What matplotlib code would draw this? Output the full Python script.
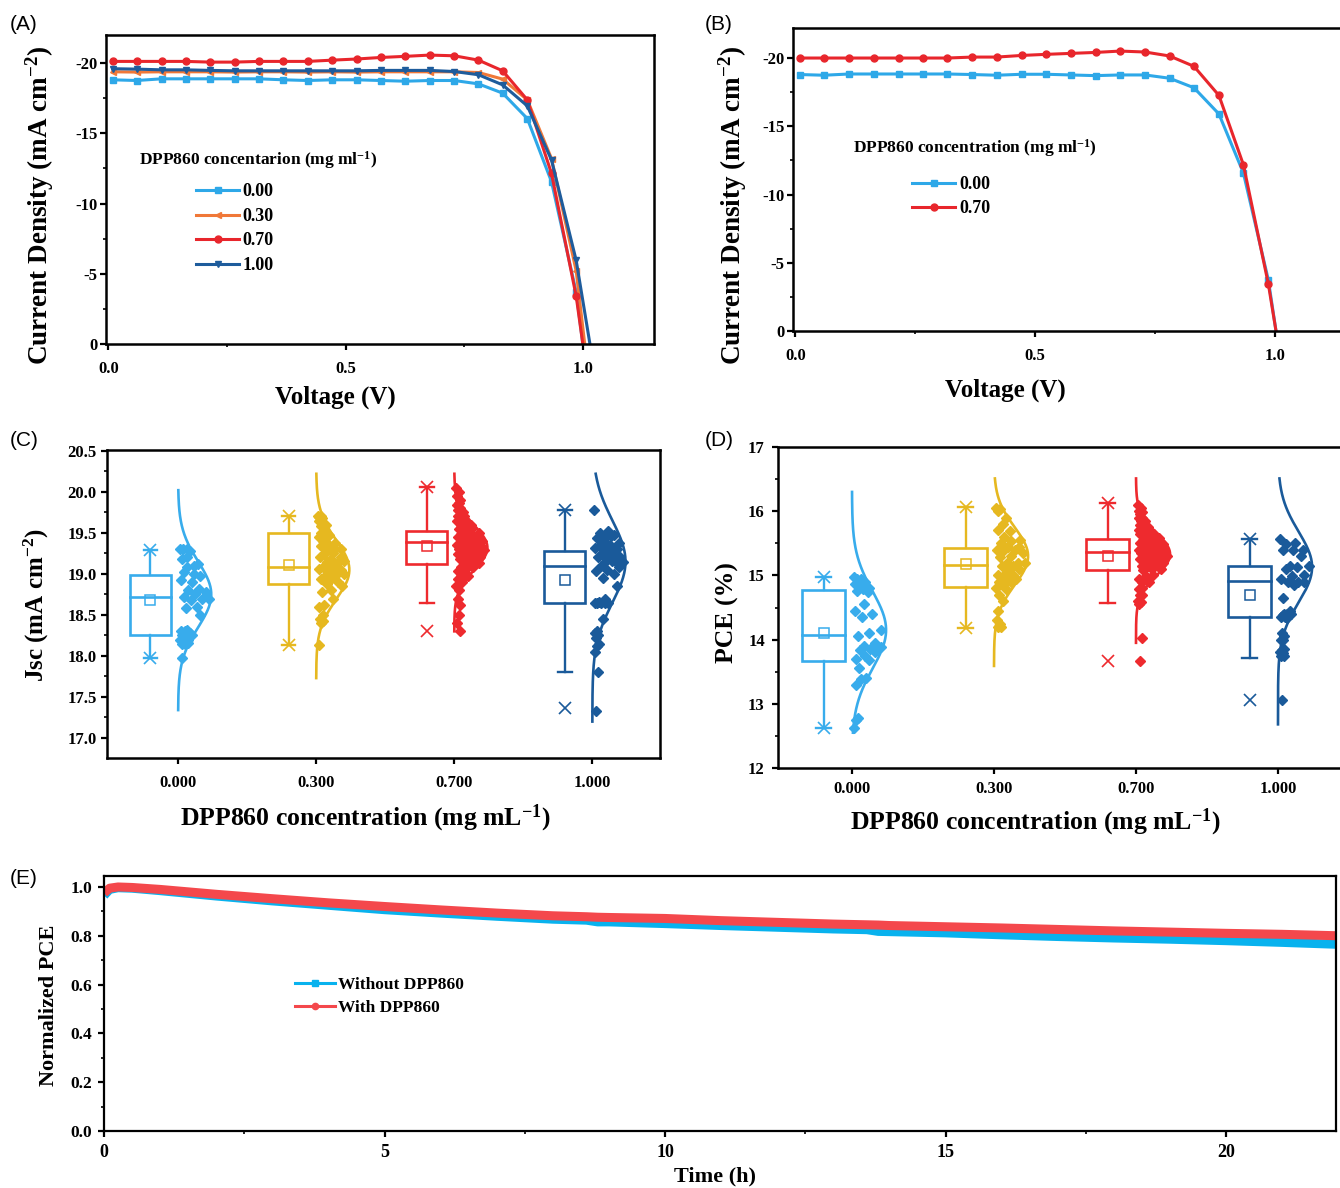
import numpy as np
import matplotlib
matplotlib.use('Agg')
import matplotlib.pyplot as plt
from matplotlib.lines import Line2D
from matplotlib.patches import Rectangle
from matplotlib.ticker import MultipleLocator

plt.rcParams.update({
    'font.family': ['Liberation Serif', 'DejaVu Serif'],
    'font.weight': 'bold',
    'axes.labelweight': 'bold',
    'mathtext.fontset': 'custom',
    'mathtext.rm': 'Liberation Serif:bold',
    'mathtext.bf': 'Liberation Serif:bold',
    'mathtext.it': 'Liberation Serif:bold:italic',
    'mathtext.default': 'rm',
    'axes.unicode_minus': False,
    'axes.linewidth': 1.8,
    'xtick.direction': 'out', 'ytick.direction': 'out',
    'xtick.major.width': 1.6, 'ytick.major.width': 1.6,
    'xtick.minor.width': 1.2, 'ytick.minor.width': 1.2,
    'xtick.major.size': 4.5, 'ytick.major.size': 4.5,
    'xtick.minor.size': 2.5, 'ytick.minor.size': 2.5,
})

# ---------------- data: J-V curves ----------------
volt = [0.009, 0.060, 0.112, 0.163, 0.215, 0.266, 0.317, 0.369, 0.420, 0.472,
        0.523, 0.574, 0.626, 0.677, 0.729, 0.780, 0.831, 0.883, 0.934, 0.986]
jv_labels = ['0.00', '0.30', '0.70', '1.00']
voc_A = [1.000, 1.004, 1.000, 1.015]
jA_000 = [-18.81, -18.76, -18.88, -18.88, -18.88, -18.88, -18.88, -18.81, -18.76, -18.81,
          -18.81, -18.76, -18.71, -18.76, -18.76, -18.52, -17.86, -16.05, -11.55, -3.70]
jA_030 = [-19.38, -19.36, -19.38, -19.38, -19.38, -19.36, -19.38, -19.38, -19.36, -19.38,
          -19.36, -19.38, -19.38, -19.38, -19.38, -19.33, -18.86, -17.38, -13.20, -5.20]
jA_070 = [-20.12, -20.12, -20.12, -20.12, -20.07, -20.07, -20.12, -20.12, -20.12, -20.21,
          -20.29, -20.40, -20.48, -20.57, -20.52, -20.21, -19.45, -17.38, -12.14, -3.40]
jA_100 = [-19.60, -19.57, -19.52, -19.52, -19.48, -19.45, -19.45, -19.45, -19.45, -19.45,
          -19.45, -19.48, -19.48, -19.48, -19.40, -19.17, -18.45, -16.95, -13.10, -5.95]

voc_B = [1.002, 1.002]
jB_000 = [-18.79, -18.74, -18.83, -18.83, -18.83, -18.83, -18.83, -18.79, -18.74, -18.81,
          -18.81, -18.76, -18.71, -18.76, -18.76, -18.52, -17.82, -15.90, -11.58, -3.74]
jB_070 = [-20.00, -20.00, -20.00, -20.00, -20.00, -20.00, -20.00, -20.07, -20.07, -20.19,
          -20.27, -20.34, -20.41, -20.51, -20.44, -20.15, -19.39, -17.26, -12.18, -3.45]

# ---------------- data: statistics ----------------
conc_labels = ['0.000', '0.300', '0.700', '1.000']

jsc_0 = [19.30, 19.30, 19.30, 19.28, 19.20, 19.18, 19.10, 19.08, 19.12, 19.00, 19.02, 18.98,
         18.90, 18.92, 18.82, 18.80, 18.78, 18.75, 18.72, 18.70, 18.68, 18.70, 18.60, 18.58,
         18.50, 18.32, 18.30, 18.28, 18.30, 18.25, 18.24, 18.26, 18.20, 18.18, 18.20, 18.15,
         18.14, 18.16, 17.97]
jsc_3 = [19.70, 19.70, 19.69, 19.68, 19.65, 19.64, 19.60, 19.58, 19.60, 19.55, 19.50, 19.48,
         19.50, 19.45, 19.46, 19.40, 19.38, 19.35, 19.34, 19.30, 19.28, 19.30, 19.25, 19.24,
         19.20, 19.18, 19.20, 19.15, 19.14, 19.16, 19.10, 19.08, 19.05, 19.04, 19.06, 19.00,
         18.98, 19.00, 18.95, 18.94, 18.90, 18.88, 18.85, 18.80, 18.78, 18.70, 18.62, 18.60,
         18.50, 18.45, 18.42, 18.40, 18.13]
jsc_7 = [20.05, 20.00, 19.95, 19.90, 19.86, 19.84, 19.80, 19.78, 19.75, 19.74, 19.70, 19.70,
         19.68, 19.65, 19.64, 19.60, 19.60, 19.58, 19.55, 19.55, 19.54, 19.50, 19.50, 19.49,
         19.48, 19.45, 19.45, 19.44, 19.43, 19.40, 19.40, 19.39, 19.38, 19.38, 19.35, 19.35,
         19.34, 19.33, 19.32, 19.30, 19.30, 19.30, 19.29, 19.28, 19.28, 19.25, 19.25, 19.24,
         19.23, 19.20, 19.20, 19.19, 19.18, 19.15, 19.14, 19.13, 19.10, 19.09, 19.08, 19.05,
         19.04, 19.00, 19.00, 18.98, 18.95, 18.94, 18.90, 18.88, 18.85, 18.80, 18.70, 18.62,
         18.50, 18.40, 18.30]
jsc_10 = [19.78, 19.52, 19.50, 19.48, 19.45, 19.44, 19.46, 19.40, 19.38, 19.35, 19.34, 19.30,
          19.29, 19.31, 19.25, 19.24, 19.20, 19.19, 19.21, 19.15, 19.15, 19.14, 19.16, 19.10,
          19.09, 19.05, 19.04, 19.00, 18.95, 18.85, 18.70, 18.65, 18.65, 18.65, 18.65, 18.64,
          18.66, 18.45, 18.30, 18.28, 18.25, 18.22, 18.15, 18.12, 18.05, 17.80, 17.33]

pce_0 = [14.97, 14.95, 14.94, 14.90, 14.89, 14.86, 14.85, 14.84, 14.80, 14.79, 14.75, 14.74,
         14.55, 14.45, 14.40, 14.35, 14.15, 14.10, 14.05, 13.95, 13.90, 13.88, 13.86, 13.84,
         13.80, 13.75, 13.70, 13.68, 13.55, 13.40, 13.38, 13.30, 12.78, 12.74, 12.63]
pce_3 = [16.05, 16.04, 16.00, 15.90, 15.80, 15.70, 15.69, 15.60, 15.55, 15.54, 15.50, 15.45,
         15.44, 15.40, 15.40, 15.39, 15.35, 15.30, 15.29, 15.20, 15.20, 15.19, 15.15, 15.14,
         15.10, 15.09, 15.00, 15.00, 14.99, 14.95, 14.94, 14.90, 14.89, 14.85, 14.80, 14.79,
         14.70, 14.60, 14.45, 14.30, 14.25, 14.20, 14.19]
pce_7 = [16.10, 16.05, 16.00, 15.99, 15.95, 15.90, 15.89, 15.85, 15.84, 15.80, 15.79, 15.75,
         15.74, 15.70, 15.70, 15.69, 15.65, 15.65, 15.64, 15.60, 15.60, 15.59, 15.55, 15.55,
         15.54, 15.54, 15.50, 15.50, 15.49, 15.49, 15.45, 15.45, 15.44, 15.44, 15.40, 15.40,
         15.39, 15.39, 15.35, 15.35, 15.34, 15.34, 15.30, 15.30, 15.29, 15.29, 15.25, 15.25,
         15.24, 15.20, 15.20, 15.19, 15.15, 15.15, 15.14, 15.10, 15.10, 15.09, 15.00, 14.99,
         14.95, 14.94, 14.90, 14.89, 14.80, 14.79, 14.70, 14.69, 14.60, 14.59, 14.55, 14.03,
         13.66]
pce_10 = [15.57, 15.50, 15.49, 15.40, 15.40, 15.39, 15.30, 15.15, 15.14, 15.13, 15.10, 15.00,
          14.99, 14.95, 14.90, 14.90, 14.89, 14.85, 14.65, 14.45, 14.40, 14.40, 14.40, 14.39,
          14.41, 14.35, 14.35, 14.34, 14.10, 14.05, 14.00, 13.99, 13.85, 13.84, 13.80, 13.79,
          13.75, 13.74, 13.06]

# box statistics
jsc_q1 = [18.26, 18.88, 19.12, 18.64]
jsc_med = [18.72, 19.09, 19.39, 19.10]
jsc_q3 = [18.99, 19.50, 19.52, 19.28]
jsc_mean = [18.68, 19.11, 19.34, 18.92]
jsc_wlo = [17.97, 18.13, 18.64, 17.80]
jsc_whi = [19.29, 19.71, 20.06, 19.78]
jsc_min = [17.97, 18.13, 18.30, 17.36]
jsc_max = [19.29, 19.71, 20.06, 19.78]
jsc_mu = [18.75, 19.05, 19.32, 19.15]
jsc_sd = [0.40, 0.36, 0.27, 0.50]
jsc_lo = [17.34, 17.73, 18.30, 17.20]
jsc_hi = [20.02, 20.22, 20.22, 20.22]

pce_q1 = [13.66, 14.82, 15.09, 14.35]
pce_med = [14.07, 15.16, 15.37, 14.92]
pce_q3 = [14.78, 15.43, 15.56, 15.15]
pce_mean = [14.10, 15.17, 15.30, 14.69]
pce_wlo = [12.63, 14.18, 14.57, 13.72]
pce_whi = [14.98, 16.06, 16.12, 15.57]
pce_min = [12.63, 14.18, 13.66, 13.06]
pce_max = [14.98, 16.06, 16.12, 15.57]
pce_mu = [14.15, 15.30, 15.33, 15.13]
pce_sd = [0.60, 0.45, 0.33, 0.55]
pce_lo = [12.55, 13.59, 13.95, 12.68]
pce_hi = [16.30, 16.51, 16.51, 16.51]

# ---------------- data: stability ----------------
t_h = [0, 0.1, 0.25, 0.5, 1, 2, 3, 4, 5, 6, 7, 8, 8.6, 8.8, 9, 10, 11, 12, 13, 13.6,
       13.8, 14, 15, 16, 17, 18, 19, 20, 21, 22]
pce_without = [0.965, 0.99, 0.997, 0.995, 0.985, 0.963, 0.943, 0.925, 0.907, 0.893, 0.880,
               0.868, 0.864, 0.857, 0.857, 0.850, 0.842, 0.835, 0.828, 0.825, 0.818, 0.817,
               0.812, 0.804, 0.797, 0.791, 0.786, 0.780, 0.773, 0.765]
pce_with = [0.975, 0.995, 1.000, 0.998, 0.990, 0.970, 0.952, 0.935, 0.920, 0.906, 0.893,
            0.882, 0.878, 0.876, 0.875, 0.871, 0.862, 0.855, 0.848, 0.845, 0.844, 0.842,
            0.837, 0.832, 0.826, 0.820, 0.815, 0.810, 0.806, 0.800]

# ---------------- styles ----------------
C_LB = '#2EA8E8'
C_OR = '#F07838'
C_RD = '#E8262C'
C_DB = '#1E5C9C'
BOX_COLS = ['#38ACEC', '#E6B820', '#EE2A2E', '#1A5A9A']

W, H = 1340, 1188
fig = plt.figure(figsize=(W / 100, H / 100), dpi=100)


def rect(l, t, r, b):
    return [l / W, 1 - b / H, (r - l) / W, (b - t) / H]


def letter(x, y, s):
    fig.text(x / W, 1 - y / H, s, family=['Liberation Sans', 'DejaVu Sans'],
             weight='normal', fontsize=15, ha='left', va='center')


def jv_axes(ax, ylim, lab_fs, xl, yl):
    ax.set_xlim(-0.005, 1.15)
    ax.set_ylim(*ylim)
    ax.set_xticks([0, 0.5, 1.0])
    ax.set_xticklabels(['0.0', '0.5', '1.0'])
    ax.xaxis.set_minor_locator(MultipleLocator(0.25))
    ax.set_yticks([-20, -15, -10, -5, 0])
    ax.set_yticklabels(['-20', '-15', '-10', '-5', '0'])
    ax.yaxis.set_minor_locator(MultipleLocator(2.5))
    ax.tick_params(axis='x', which='both', labelsize=12, pad=8)
    ax.tick_params(axis='y', which='both', labelsize=12, pad=1.5)
    ax.set_xlabel('Voltage (V)', fontsize=18)
    ax.set_ylabel('Current Density (mA cm$^{-2}$)', fontsize=lab_fs)
    ax.xaxis.label.set_va('center')
    ax.yaxis.label.set_va('center')
    ax.xaxis.set_label_coords(*xl)
    ax.yaxis.set_label_coords(*yl)


# ---- (A)
axA = fig.add_axes(rect(106, 35, 654, 344))
seriesA = [(jA_000, C_LB, 's'), (jA_030, C_OR, '<'), (jA_070, C_RD, 'o'), (jA_100, C_DB, 'v')]
for (vals, col, mk), lab, voc in zip(seriesA, jv_labels, voc_A):
    axA.plot(volt + [voc], vals + [0.0], color=col, marker=mk, ms=5, lw=2.2,
             markevery=list(range(len(vals))), label=lab)
jv_axes(axA, (0, -22), 19.5, (0.418, -0.172), (-0.12, 0.45))
axA.text(0.060, 0.595, 'DPP860 concentarion (mg ml$^{-1}$)', transform=axA.transAxes,
         fontsize=12.5, ha='left', va='center')
axA.legend(loc='upper left', bbox_to_anchor=(0.164, 0.52), frameon=False, borderpad=0,
           borderaxespad=0, handlelength=2.4, handletextpad=0.2, labelspacing=0.42,
           fontsize=13)
letter(10, 25, '(A)')

# ---- (B)
axB = fig.add_axes(rect(793, 28, 1347, 331))
seriesB = [(jB_000, C_LB, 's', '0.00'), (jB_070, C_RD, 'o', '0.70')]
for (vals, col, mk, lab), voc in zip(seriesB, voc_B):
    axB.plot(volt + [voc], vals + [0.0], color=col, marker=mk, ms=5, lw=2.2,
             markevery=list(range(len(vals))), label=lab)
jv_axes(axB, (0, -22.2), 19.5, (0.383, -0.195), (-0.108, 0.416))
axB.text(0.108, 0.604, 'DPP860 concentration (mg ml$^{-1}$)', transform=axB.transAxes,
         fontsize=12.5, ha='left', va='center')
axB.legend(loc='upper left', bbox_to_anchor=(0.215, 0.512), frameon=False, borderpad=0,
           borderaxespad=0, handlelength=2.4, handletextpad=0.2, labelspacing=0.42,
           fontsize=13)
letter(705, 25, '(B)')


# ---- box + distribution panels
def stat_panel(ax, groups, q1, med, q3, mean, wlo, whi, mn, mx, mu, sd, lo, hi):
    for i, vals in enumerate(groups):
        pos = i + 1
        col = BOX_COLS[i]
        c = pos - 0.2
        bw = 0.3
        ax.add_patch(Rectangle((c - bw / 2, q1[i]), bw, q3[i] - q1[i], fill=False,
                               ec=col, lw=1.9, zorder=3))
        ax.plot([c - bw / 2, c + bw / 2], [med[i], med[i]], color=col, lw=1.9, zorder=3)
        ax.plot([c, c], [q3[i], whi[i]], color=col, lw=1.7)
        ax.plot([c, c], [wlo[i], q1[i]], color=col, lw=1.7)
        ax.plot([c - 0.05, c + 0.05], [whi[i], whi[i]], color=col, lw=1.7)
        ax.plot([c - 0.05, c + 0.05], [wlo[i], wlo[i]], color=col, lw=1.7)
        ax.plot([c], [mean[i]], marker='s', ms=7.5, mfc='none', mec=col, mew=1.1, zorder=4)
        ax.plot([c, c], [mn[i], mx[i]], ls='none', marker='x', ms=9, mew=1.2, color=col)
        yy = np.linspace(lo[i], hi[i], 300)
        wid = 0.24 * np.exp(-0.5 * ((yy - mu[i]) / sd[i]) ** 2)
        ax.plot(pos + wid, yy, color=col, lw=1.9, zorder=2)
        v = np.array(vals)
        env = 0.24 * np.exp(-0.5 * ((v - mu[i]) / sd[i]) ** 2)
        env = np.maximum(env, 0.05)
        frac = (np.arange(len(v)) * 0.618034) % 1.0
        xs = pos + 0.015 + frac * (env - 0.015) * 0.95
        ax.plot(xs, v, ls='none', marker='D', ms=5.2, color=col, zorder=3)
    ax.set_xticks([1, 2, 3, 4])
    ax.set_xticklabels(conc_labels)


axC = fig.add_axes(rect(107, 450, 660, 758))
stat_panel(axC, [jsc_0, jsc_3, jsc_7, jsc_10], jsc_q1, jsc_med, jsc_q3, jsc_mean, jsc_wlo,
           jsc_whi, jsc_min, jsc_max, jsc_mu, jsc_sd, jsc_lo, jsc_hi)
axC.set_xlim(0.485, 4.49)
axC.set_ylim(16.756, 20.51)
cy = [17.0, 17.5, 18.0, 18.5, 19.0, 19.5, 20.0, 20.5]
axC.set_yticks(cy)
axC.set_yticklabels(['%.1f' % v for v in cy])
axC.yaxis.set_minor_locator(MultipleLocator(0.25))
axC.tick_params(axis='x', labelsize=12, pad=8)
axC.tick_params(axis='y', which='both', labelsize=12, pad=3)
axC.set_xlabel('DPP860 concentration (mg mL$^{-1}$)', fontsize=18.5)
axC.set_ylabel('Jsc (mA cm$^{-2}$)', fontsize=18)
axC.xaxis.label.set_va('center')
axC.yaxis.label.set_va('center')
axC.xaxis.set_label_coords(0.467, -0.195)
axC.yaxis.set_label_coords(-0.127, 0.497)
letter(10, 441, '(C)')

axD = fig.add_axes(rect(778, 447, 1349, 768))
stat_panel(axD, [pce_0, pce_3, pce_7, pce_10], pce_q1, pce_med, pce_q3, pce_mean, pce_wlo,
           pce_whi, pce_min, pce_max, pce_mu, pce_sd, pce_lo, pce_hi)
axD.set_xlim(0.479, 4.5)
axD.set_ylim(12, 17)
dy = [12, 13, 14, 15, 16, 17]
axD.set_yticks(dy)
axD.set_yticklabels([str(v) for v in dy])
axD.yaxis.set_minor_locator(MultipleLocator(0.5))
axD.tick_params(axis='x', labelsize=12, pad=5)
axD.tick_params(axis='y', which='both', labelsize=12, pad=5)
axD.set_xlabel('DPP860 concentration (mg mL$^{-1}$)', fontsize=18.5)
axD.set_ylabel('PCE (%)', fontsize=18.5)
axD.xaxis.label.set_va('center')
axD.yaxis.label.set_va('center')
axD.xaxis.set_label_coords(0.45, -0.168)
axD.yaxis.set_label_coords(-0.089, 0.483)
letter(705, 441, '(D)')

# ---- (E)
axE = fig.add_axes(rect(104, 876, 1336, 1131))
for sp in axE.spines.values():
    sp.set_linewidth(1.6)
axE.plot(t_h, pce_without, color='#08B2EE', lw=6.5, solid_capstyle='butt')
axE.plot(t_h, pce_with, color='#F4484C', lw=6.5, solid_capstyle='butt')
axE.set_xlim(0, 21.96)
axE.set_ylim(0, 1.045)
axE.set_xticks([0, 5, 10, 15, 20])
axE.xaxis.set_minor_locator(MultipleLocator(2.5))
ey = [0.0, 0.2, 0.4, 0.6, 0.8, 1.0]
axE.set_yticks(ey)
axE.set_yticklabels(['%.1f' % v for v in ey])
axE.yaxis.set_minor_locator(MultipleLocator(0.1))
axE.tick_params(axis='x', which='both', labelsize=13, pad=5)
axE.tick_params(axis='y', which='both', labelsize=12.5, pad=4)
axE.set_xlabel('Time (h)', fontsize=16)
axE.set_ylabel('Normalized PCE', fontsize=16)
axE.xaxis.label.set_va('center')
axE.yaxis.label.set_va('center')
axE.xaxis.set_label_coords(0.496, -0.18)
axE.yaxis.set_label_coords(-0.045, 0.494)
hE = [Line2D([], [], color='#08B2EE', lw=2.2, marker='s', ms=4.5),
      Line2D([], [], color='#F4484C', lw=2.2, marker='o', ms=4.5)]
axE.legend(hE, ['Without DPP860', 'With DPP860'], loc='upper left',
           bbox_to_anchor=(0.155, 0.605), frameon=False, borderpad=0, borderaxespad=0,
           handlelength=2.3, handletextpad=0.2, labelspacing=0.42, fontsize=12.5)
letter(10, 878, '(E)')

fig.savefig('out.png', dpi=100)
